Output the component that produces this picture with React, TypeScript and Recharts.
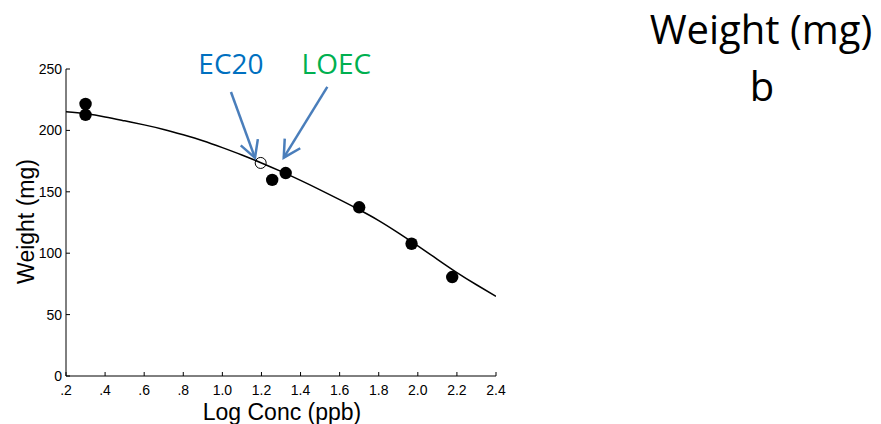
import React from "react";
import {
  ComposedChart,
  Line,
  Scatter,
  XAxis,
  YAxis,
  ReferenceLine,
} from "recharts";

// fitted curve, every 0.1 log units
const curveX = [0.2, 0.3, 0.4, 0.5, 0.6, 0.7, 0.8, 0.9, 1.0, 1.1, 1.2, 1.3, 1.4, 1.5, 1.6, 1.7, 1.8, 1.9, 2.0, 2.1, 2.2, 2.3, 2.4];
const curveY = [215.1, 213.5, 211.0, 207.8, 204.5, 200.8, 196.4, 191.6, 186.0, 180.0, 173.5, 166.6, 159.3, 151.6, 143.6, 135.4, 126.6, 116.6, 106.0, 95.0, 84.2, 74.3, 64.9];

// observed weights
const obsX = [0.3, 0.3, 1.255, 1.324, 1.7, 1.968, 2.176];
const obsY = [221.6, 212.7, 159.7, 165.3, 137.4, 107.7, 80.6];

// EC20 estimate (open circle)
const ec20 = { x: 1.196, y: 173.5 };

const xTicks = [0.2, 0.4, 0.6, 0.8, 1.0, 1.2, 1.4, 1.6, 1.8, 2.0, 2.2, 2.4];
const yTicks = [0, 50, 100, 150, 200, 250];

// annotation arrows: label, tail point, head point (data units)
const arrows = [
  { label: "EC20", color: "#0070C0", from: { x: 1.044, y: 231.3 }, to: { x: 1.167, y: 177.6 }, dx: 0, dy: -18 },
  { label: "LOEC", color: "#00B050", from: { x: 1.537, y: 235.4 }, to: { x: 1.314, y: 177.8 }, dx: 9, dy: -13 },
];

const curveData = curveX.map((x, i) => ({ x, y: curveY[i] }));
const obsData = obsX.map((x, i) => ({ x, y: obsY[i] }));

const axisFont = '"Liberation Sans", Arial, sans-serif';
const textFont = '"Open Sans", "Noto Sans", sans-serif';

const fmtX = (v: number) => (v < 1 ? "." + Math.round(v * 10) : v.toFixed(1));

const XTick = (props: any) => {
  const { x, y, payload } = props;
  return (
    <g>
      <line x1={x} y1={y} x2={x} y2={y - 4} stroke="#000" strokeWidth={1} />
      <text x={x} y={y + 19} textAnchor="middle" fontSize={14} fontFamily={axisFont} fill="#000">
        {fmtX(payload.value)}
      </text>
    </g>
  );
};

const YTick = (props: any) => {
  const { x, y, payload } = props;
  return (
    <g>
      <line x1={x} y1={y} x2={x + 4} y2={y} stroke="#000" strokeWidth={1} />
      <text x={x - 4} y={y + 5} textAnchor="end" fontSize={14} fontFamily={axisFont} fill="#000">
        {payload.value}
      </text>
    </g>
  );
};

const makeArrow = (a: (typeof arrows)[number]) => (props: any) => {
  const { x1, y1, x2, y2 } = props;
  const ang = Math.atan2(y2 - y1, x2 - x1);
  const len = 19;
  const spread = 0.5;
  const b1x = x2 - len * Math.cos(ang - spread);
  const b1y = y2 - len * Math.sin(ang - spread);
  const b2x = x2 - len * Math.cos(ang + spread);
  const b2y = y2 - len * Math.sin(ang + spread);
  return (
    <g>
      <line x1={x1} y1={y1} x2={x2} y2={y2} stroke="#4A7EBB" strokeWidth={2.5} />
      <polyline
        points={`${b1x},${b1y} ${x2},${y2} ${b2x},${b2y}`}
        fill="none"
        stroke="#4A7EBB"
        strokeWidth={2.5}
      />
      <text x={x1 + a.dx} y={y1 + a.dy} textAnchor="middle" fontSize={28} fontFamily={textFont} fill={a.color}>
        {a.label}
      </text>
    </g>
  );
};

const Dot = (props: any) => <circle cx={props.cx} cy={props.cy} r={6.2} fill="#000" />;
const OpenDot = (props: any) => (
  <circle cx={props.cx} cy={props.cy} r={5.5} fill="none" stroke="#000" strokeWidth={1} />
);

export default function App() {
  return (
    <div style={{ position: "absolute", left: 0, top: 0, width: 881, height: 424, background: "#fff" }}>
      <ComposedChart width={881} height={424} margin={{ top: 69, right: 385, bottom: 18, left: 6 }}>
        <XAxis
          type="number"
          dataKey="x"
          domain={[0.2, 2.4]}
          ticks={xTicks}
          height={30}
          tickLine={false}
          tickSize={0}
          tickMargin={0}
          tick={<XTick />}
          axisLine={{ stroke: "#000" }}
          allowDataOverflow
        />
        <YAxis
          type="number"
          dataKey="y"
          domain={[0, 250]}
          ticks={yTicks}
          width={60}
          tickLine={false}
          tickSize={0}
          tickMargin={0}
          tick={<YTick />}
          axisLine={{ stroke: "#000" }}
          allowDataOverflow
        />
        <Line
          data={curveData}
          dataKey="y"
          type="natural"
          stroke="#000"
          strokeWidth={1.5}
          dot={false}
          activeDot={false}
          isAnimationActive={false}
        />
        <Scatter data={obsData} dataKey="y" shape={<Dot />} isAnimationActive={false} />
        <Scatter data={[ec20]} dataKey="y" shape={<OpenDot />} isAnimationActive={false} />
        {arrows.map((a) => (
          <ReferenceLine
            key={a.label}
            segment={[a.from, a.to]}
            ifOverflow="visible"
            shape={makeArrow(a)}
          />
        ))}
      </ComposedChart>
      <svg
        width={881}
        height={424}
        style={{ position: "absolute", left: 0, top: 0, pointerEvents: "none" }}
      >
        <text x={761} y={44} textAnchor="middle" fontSize={40} fontFamily={textFont} fill="#000">
          Weight (mg)
        </text>
        <text x={762} y={101} textAnchor="middle" fontSize={40} fontFamily={textFont} fill="#000">
          b
        </text>
        <text x={282} y={420} textAnchor="middle" fontSize={23} fontFamily={axisFont} fill="#000">
          Log Conc (ppb)
        </text>
        <text
          transform="translate(34,221.5) rotate(-90)"
          textAnchor="middle"
          fontSize={23}
          fontFamily={axisFont}
          fill="#000"
        >
          Weight (mg)
        </text>
      </svg>
    </div>
  );
}
